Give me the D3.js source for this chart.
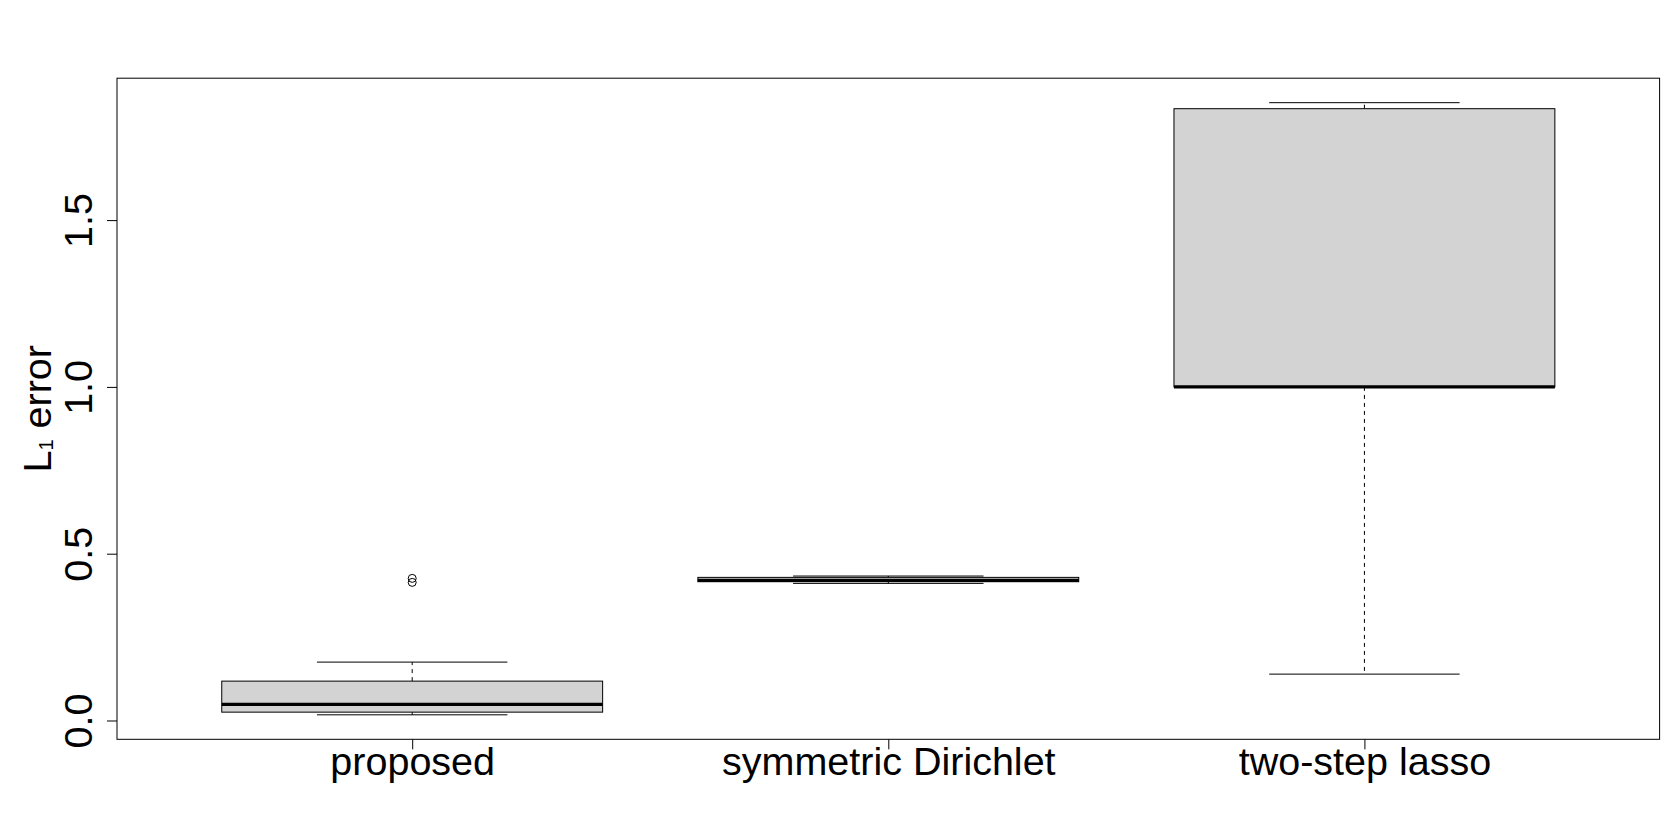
<!DOCTYPE html>
<html>
<head>
<meta charset="utf-8">
<script src="https://cdn.jsdelivr.net/npm/d3@7"></script>
<style>
  html, body { margin: 0; padding: 0; background: #fff; }
  svg { display: block; }
  text { font-family: "Liberation Sans", Arial, Helvetica, sans-serif; fill: #000; }
</style>
</head>
<body>
<svg id="chart" width="1680" height="838"></svg>
<script>
// ---- data ----
const categories = ["proposed", "symmetric Dirichlet", "two-step lasso"];
const lowerWhisker = [0.017, 0.411, 0.139];
const q1Values     = [0.025, 0.416, 1.000];
const medians      = [0.048, 0.420, 1.000];
const q3Values     = [0.118, 0.429, 1.834];
const upperWhisker = [0.175, 0.433, 1.852];
const outliers     = [[0.426, 0.414], [], []];
const yTicks = [0, 0.5, 1.0, 1.5];
const yTickLabels = ["0.0", "0.5", "1.0", "1.5"];
const yTitle = "L";
const yTitleSub = "1";
const yTitleRest = " error";

// ---- layout ----
const W = 1680, H = 838;
const margin = { left: 117, right: 20.4, top: 78.2, bottom: 98.7 };
const svg = d3.select("#chart");

const allVals = [].concat(lowerWhisker, upperWhisker, ...outliers);
const lo = d3.min(allVals), hi = d3.max(allVals);
const ext = (hi - lo) * 0.04;
const y = d3.scaleLinear().domain([lo - ext, hi + ext]).range([H - margin.bottom, margin.top]);
const n = categories.length;
const x = d3.scaleLinear().domain([0.5 - 0.04 * n, n + 0.5 + 0.04 * n]).range([margin.left, W - margin.right]);

const boxHalf = 0.4, stapleHalf = 0.2;
const FS = 39.5;

const boxes = categories.map((c, i) => ({
  i: i + 1, c, lw: lowerWhisker[i], q1: q1Values[i], med: medians[i], q3: q3Values[i], uw: upperWhisker[i], out: outliers[i]
}));

const g = svg.append("g");

boxes.forEach(b => {
  const gb = g.append("g");
  const cx = x(b.i);
  // whiskers (dashed)
  gb.append("line").attr("x1", cx).attr("x2", cx).attr("y1", y(b.q3)).attr("y2", y(b.uw))
    .attr("stroke", "#000").attr("stroke-width", 1).attr("stroke-dasharray", "4,4");
  gb.append("line").attr("x1", cx).attr("x2", cx).attr("y1", y(b.q1)).attr("y2", y(b.lw))
    .attr("stroke", "#000").attr("stroke-width", 1).attr("stroke-dasharray", "4,4");
  // staples
  [b.uw, b.lw].forEach(v => {
    gb.append("line").attr("x1", x(b.i - stapleHalf)).attr("x2", x(b.i + stapleHalf))
      .attr("y1", y(v)).attr("y2", y(v)).attr("stroke", "#000").attr("stroke-width", 1);
  });
  // box
  gb.append("rect").attr("x", x(b.i - boxHalf)).attr("width", x(b.i + boxHalf) - x(b.i - boxHalf))
    .attr("y", y(b.q3)).attr("height", Math.max(0.5, y(b.q1) - y(b.q3)))
    .attr("fill", "#d3d3d3").attr("stroke", "#000").attr("stroke-width", 1);
  // median
  gb.append("line").attr("x1", x(b.i - boxHalf)).attr("x2", x(b.i + boxHalf))
    .attr("y1", y(b.med)).attr("y2", y(b.med)).attr("stroke", "#000").attr("stroke-width", 3.2);
  // outliers
  b.out.forEach(v => {
    gb.append("circle").attr("cx", cx).attr("cy", y(v)).attr("r", 4)
      .attr("fill", "none").attr("stroke", "#000").attr("stroke-width", 1);
  });
});

// plot frame
svg.append("rect").attr("x", margin.left).attr("y", margin.top)
  .attr("width", W - margin.left - margin.right).attr("height", H - margin.top - margin.bottom)
  .attr("fill", "none").attr("stroke", "#000").attr("stroke-width", 1);

// y axis
const yAxis = d3.axisLeft(y).tickValues(yTicks).tickFormat((d, i) => yTickLabels[i]).tickSize(10).tickSizeOuter(0);
const ya = svg.append("g").attr("transform", `translate(${margin.left},0)`).call(yAxis);
ya.select(".domain").remove();
ya.selectAll(".tick line").attr("stroke", "#000");
ya.selectAll(".tick text").attr("x", 0).attr("dy", null)
  .attr("transform", "translate(-25,0) rotate(-90)")
  .attr("text-anchor", "middle").attr("dominant-baseline", "alphabetic")
  .style("font-size", FS + "px").style("font-family", '"Liberation Sans", Arial, sans-serif').attr("fill", "#000");

// x axis
const xAxis = d3.axisBottom(x).tickValues(boxes.map(b => b.i)).tickFormat((d, i) => categories[i]).tickSize(10).tickSizeOuter(0);
const xa = svg.append("g").attr("transform", `translate(0,${H - margin.bottom})`).call(xAxis);
xa.select(".domain").remove();
xa.selectAll(".tick line").attr("stroke", "#000");
xa.selectAll(".tick text").attr("y", 36).attr("dy", null)
  .attr("dominant-baseline", "alphabetic")
  .style("font-size", FS + "px").style("font-family", '"Liberation Sans", Arial, sans-serif').attr("fill", "#000");

// y title
const yt = svg.append("text")
  .attr("transform", `translate(51,${(margin.top + H - margin.bottom) / 2}) rotate(-90)`)
  .attr("text-anchor", "middle").style("font-size", FS + "px");
yt.append("tspan").text(yTitle);
yt.append("tspan").text(yTitleSub).style("font-size", "20px").attr("dy", 2);
yt.append("tspan").text(yTitleRest).attr("dy", -2);
</script>
</body>
</html>
